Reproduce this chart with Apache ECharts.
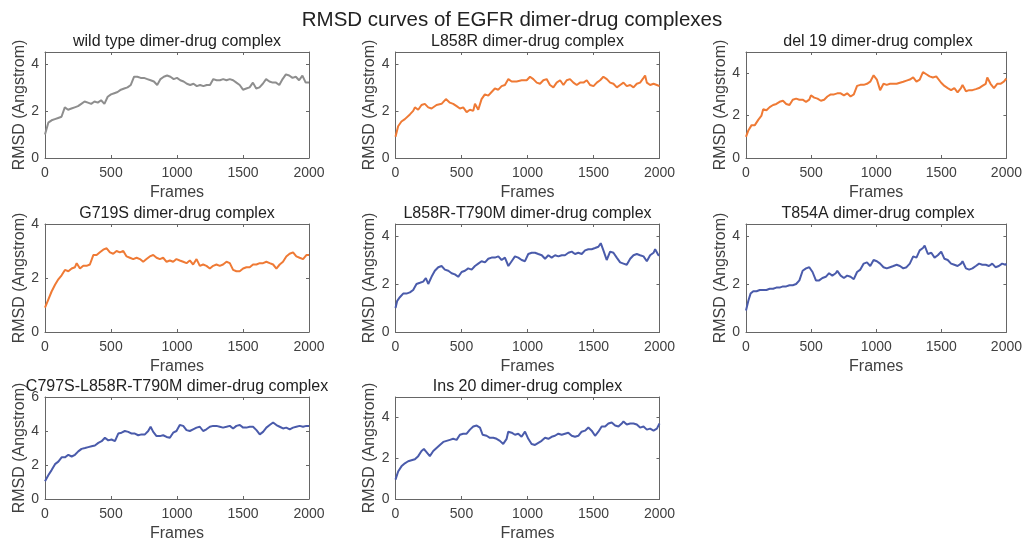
<!DOCTYPE html>
<html>
<head>
<meta charset="utf-8">
<script src="https://cdn.jsdelivr.net/npm/echarts@6/dist/echarts.min.js"></script>
<style>
html,body{margin:0;padding:0;background:#fff;}
#chart{width:1025px;height:543px;}
</style>
</head>
<body>
<div id="chart"></div>
<script>
const mainTitle = 'RMSD curves of EGFR dimer-drug complexes';
const panelTitles = ['wild type dimer-drug complex','L858R dimer-drug complex','del 19 dimer-drug complex',
  'G719S dimer-drug complex','L858R-T790M dimer-drug complex','T854A dimer-drug complex',
  'C797S-L858R-T790M dimer-drug complex','Ins 20 dimer-drug complex'];
const xTicks = [0, 500, 1000, 1500, 2000];
const yMaxes = [4.5, 4.5, 5, 4, 4.5, 4.5, 6, 5];
const colorsUsed = ['#8e8e8e','#ef7a35','#ef7a35','#ef7a35','#4a5bab','#4a5bab','#4a5bab','#4a5bab'];

// [frame, RMSD] pairs
const wildType = [[0,1.0],[25,1.5],[50,1.6],[75,1.65],[100,1.7],[125,1.75],[150,2.15],[175,2.05],[200,2.1],[225,2.15],[250,2.2],[275,2.3],[300,2.4],[325,2.35],[350,2.3],[375,2.4],[400,2.35],[425,2.45],[450,2.3],[475,2.6],[500,2.7],[525,2.75],[550,2.8],[575,2.9],[600,2.95],[625,3.0],[650,3.1],[675,3.45],[700,3.45],[725,3.4],[750,3.4],[775,3.35],[800,3.3],[825,3.25],[850,3.1],[875,3.35],[900,3.45],[925,3.5],[950,3.45],[975,3.35],[1000,3.4],[1025,3.3],[1050,3.25],[1075,3.15],[1100,3.1],[1125,3.15],[1150,3.05],[1175,3.1],[1200,3.05],[1225,3.1],[1250,3.1],[1275,3.35],[1300,3.3],[1325,3.3],[1350,3.35],[1375,3.3],[1400,3.35],[1425,3.3],[1450,3.2],[1475,3.1],[1500,2.9],[1525,2.95],[1550,3.0],[1575,3.2],[1600,2.95],[1625,3.0],[1650,3.15],[1675,3.35],[1700,3.25],[1725,3.2],[1750,3.2],[1775,3.1],[1800,3.35],[1825,3.55],[1850,3.5],[1875,3.4],[1900,3.45],[1925,3.3],[1950,3.5],[1975,3.2],[2000,3.2]];
const l858r = [[0,0.9],[20,1.35],[45,1.55],[71,1.65],[109,1.85],[134,2.0],[147,2.15],[172,2.05],[197,2.25],[222,2.3],[248,2.15],[273,2.1],[311,2.25],[349,2.3],[382,2.5],[412,2.35],[437,2.3],[463,2.2],[488,2.1],[513,2.15],[539,1.95],[564,2.05],[589,2.0],[602,2.3],[627,2.05],[652,2.5],[677,2.7],[703,2.65],[728,2.8],[753,2.95],[779,2.9],[804,3.05],[829,3.1],[855,3.35],[880,3.25],[918,3.25],[956,3.3],[994,3.3],[1019,3.45],[1044,3.35],[1070,3.2],[1095,3.15],[1120,3.3],[1145,3.35],[1170,3.1],[1196,3.0],[1221,3.2],[1247,3.3],[1272,3.1],[1297,3.3],[1322,3.35],[1348,3.2],[1373,3.1],[1398,3.2],[1424,3.2],[1449,3.3],[1474,3.1],[1500,3.05],[1525,3.2],[1550,3.3],[1575,3.45],[1601,3.35],[1626,3.2],[1651,3.15],[1677,3.0],[1702,3.1],[1727,3.2],[1752,3.05],[1778,3.1],[1803,3.0],[1828,3.15],[1853,3.2],[1879,3.4],[1891,3.5],[1904,3.2],[1929,3.1],[1955,3.15],[1980,3.1],[2000,3.05]];
const del19 = [[0,1.0],[18,1.3],[43,1.55],[68,1.55],[94,1.8],[119,2.0],[132,2.3],[157,2.25],[182,2.4],[208,2.5],[233,2.55],[258,2.65],[284,2.7],[309,2.55],[334,2.5],[359,2.75],[385,2.8],[410,2.75],[435,2.75],[461,2.65],[486,2.75],[499,2.95],[524,2.85],[549,2.8],[575,2.7],[600,2.75],[625,2.9],[651,3.0],[676,3.0],[701,3.05],[727,3.05],[752,2.95],[777,3.05],[803,2.9],[828,3.0],[853,3.4],[878,3.45],[904,3.45],[929,3.5],[954,3.6],[980,3.9],[1005,3.7],[1030,3.2],[1056,3.5],[1081,3.45],[1106,3.5],[1132,3.5],[1157,3.5],[1182,3.55],[1208,3.6],[1233,3.65],[1258,3.7],[1284,3.8],[1309,3.6],[1334,3.7],[1359,4.05],[1385,3.95],[1410,3.85],[1435,3.8],[1461,3.85],[1473,3.9],[1499,3.55],[1524,3.4],[1549,3.3],[1575,3.2],[1600,3.3],[1625,3.1],[1651,3.3],[1663,3.45],[1689,3.15],[1714,3.2],[1739,3.2],[1765,3.25],[1790,3.3],[1815,3.4],[1841,3.5],[1853,3.8],[1878,3.5],[1904,3.3],[1929,3.5],[1954,3.5],[1980,3.6],[2000,3.75]];
const g719s = [[0,0.9],[25,1.2],[50,1.5],[76,1.75],[101,1.95],[126,2.1],[151,2.3],[177,2.25],[202,2.35],[227,2.4],[240,2.55],[265,2.35],[290,2.45],[315,2.45],[340,2.5],[366,2.85],[391,2.85],[416,2.95],[441,3.05],[467,3.1],[492,2.95],[517,2.9],[542,3.0],[567,2.95],[593,3.0],[618,2.8],[643,2.75],[668,2.7],[694,2.75],[719,2.7],[744,2.6],[769,2.7],[794,2.8],[820,2.85],[845,2.75],[870,2.7],[895,2.75],[921,2.6],[946,2.65],[971,2.6],[996,2.7],[1021,2.65],[1047,2.6],[1072,2.55],[1097,2.65],[1122,2.5],[1148,2.7],[1173,2.45],[1198,2.5],[1223,2.45],[1249,2.35],[1274,2.45],[1299,2.5],[1324,2.45],[1349,2.5],[1375,2.6],[1400,2.55],[1425,2.3],[1450,2.25],[1475,2.25],[1501,2.35],[1526,2.4],[1551,2.4],[1576,2.5],[1602,2.5],[1627,2.55],[1652,2.55],[1677,2.6],[1702,2.55],[1728,2.5],[1753,2.35],[1778,2.5],[1803,2.6],[1828,2.8],[1853,2.9],[1879,2.95],[1904,2.8],[1929,2.75],[1955,2.7],[1980,2.85],[2000,2.85]];
const l858rT790m = [[0,1.0],[13,1.3],[33,1.45],[58,1.6],[83,1.6],[109,1.65],[134,1.75],[159,2.0],[185,2.05],[210,2.1],[230,2.25],[248,2.0],[273,2.3],[298,2.55],[324,2.7],[349,2.75],[374,2.6],[400,2.55],[425,2.45],[450,2.4],[475,2.3],[501,2.5],[526,2.55],[551,2.65],[577,2.6],[602,2.75],[627,2.85],[652,2.95],[678,2.9],[703,3.05],[728,3.1],[753,3.1],[779,3.15],[804,3.0],[829,3.1],[855,2.75],[880,2.95],[905,3.15],[930,3.1],[956,3.0],[981,2.95],[1006,3.25],[1032,3.3],[1057,3.3],[1082,3.25],[1108,3.2],[1133,3.05],[1158,3.2],[1183,3.1],[1209,3.2],[1234,3.15],[1259,3.2],[1284,3.2],[1310,3.3],[1335,3.35],[1360,3.25],[1385,3.3],[1411,3.25],[1436,3.4],[1461,3.45],[1486,3.45],[1512,3.5],[1537,3.55],[1555,3.7],[1575,3.4],[1600,3.0],[1626,3.35],[1651,3.3],[1676,3.1],[1702,2.9],[1727,2.85],[1752,2.8],[1778,3.05],[1803,3.2],[1828,3.25],[1853,3.2],[1879,3.15],[1904,2.95],[1929,3.2],[1955,3.3],[1967,3.45],[1992,3.2],[2000,3.2]];
const t854a = [[0,0.9],[18,1.3],[35,1.6],[56,1.7],[81,1.7],[106,1.75],[132,1.75],[157,1.75],[182,1.8],[208,1.8],[233,1.85],[258,1.85],[284,1.9],[309,1.9],[334,1.95],[359,1.95],[385,2.0],[410,2.15],[435,2.55],[461,2.65],[486,2.7],[511,2.5],[537,2.15],[562,2.15],[587,2.25],[613,2.3],[638,2.45],[663,2.35],[689,2.45],[701,2.55],[727,2.35],[752,2.25],[777,2.35],[803,2.3],[828,2.2],[853,2.5],[878,2.6],[904,2.85],[929,2.9],[954,2.75],[980,3.0],[1005,2.95],[1030,2.85],[1056,2.7],[1081,2.65],[1106,2.7],[1132,2.75],[1157,2.8],[1182,2.75],[1208,2.65],[1233,2.7],[1258,2.85],[1284,3.15],[1309,3.1],[1334,3.4],[1359,3.5],[1372,3.6],[1397,3.25],[1423,3.3],[1448,3.1],[1473,3.2],[1499,3.35],[1524,3.05],[1549,3.0],[1575,2.85],[1600,2.8],[1625,2.75],[1651,2.85],[1663,2.95],[1689,2.65],[1714,2.6],[1739,2.65],[1765,2.75],[1790,2.85],[1815,2.8],[1841,2.8],[1866,2.75],[1891,2.85],[1916,2.7],[1942,2.75],[1967,2.85],[1992,2.8],[2000,2.85]];
const c797s = [[0,1.05],[25,1.4],[50,1.7],[76,2.05],[101,2.2],[126,2.45],[151,2.45],[177,2.6],[202,2.5],[227,2.6],[252,2.8],[277,2.95],[303,3.0],[328,3.05],[353,3.1],[378,3.15],[404,3.3],[429,3.4],[454,3.6],[479,3.45],[504,3.5],[530,3.4],[555,3.85],[580,3.9],[605,4.0],[631,3.95],[656,3.85],[681,3.85],[706,3.75],[731,3.8],[757,3.8],[782,4.0],[800,4.25],[820,3.95],[845,3.7],[870,3.7],[895,3.75],[921,3.65],[946,3.6],[971,3.9],[996,4.0],[1021,4.35],[1047,4.3],[1072,4.05],[1097,4.0],[1122,4.1],[1148,4.2],[1173,4.25],[1198,4.0],[1223,4.1],[1249,4.25],[1274,4.3],[1299,4.3],[1324,4.25],[1349,4.2],[1375,4.25],[1400,4.3],[1425,4.15],[1450,4.3],[1476,4.35],[1501,4.2],[1526,4.2],[1551,4.25],[1576,4.25],[1602,4.05],[1627,3.8],[1652,3.95],[1677,4.2],[1702,4.35],[1728,4.5],[1753,4.35],[1778,4.25],[1803,4.15],[1828,4.2],[1854,4.1],[1879,4.2],[1904,4.25],[1929,4.3],[1955,4.25],[1980,4.3],[2000,4.3]];
const ins20 = [[0,0.95],[20,1.35],[45,1.6],[71,1.75],[96,1.85],[121,1.9],[147,1.95],[172,2.1],[197,2.35],[215,2.45],[235,2.3],[260,2.1],[286,2.35],[311,2.5],[336,2.65],[362,2.8],[387,2.85],[412,2.9],[437,2.95],[463,2.9],[488,3.15],[513,3.2],[539,3.2],[564,3.4],[589,3.55],[615,3.6],[640,3.5],[660,3.15],[690,3.1],[715,3.0],[741,3.0],[766,2.95],[791,2.85],[816,2.7],[842,2.95],[854,3.3],[880,3.25],[905,3.15],[930,3.2],[955,3.05],[981,3.3],[1006,2.95],[1031,2.7],[1057,2.65],[1082,2.75],[1107,2.85],[1133,3.0],[1158,2.95],[1183,3.05],[1208,3.1],[1234,3.2],[1259,3.15],[1284,3.2],[1309,3.25],[1335,3.1],[1360,3.05],[1385,3.1],[1410,3.3],[1436,3.35],[1461,3.5],[1486,3.35],[1512,3.1],[1537,3.3],[1562,3.55],[1588,3.55],[1613,3.7],[1638,3.75],[1664,3.6],[1689,3.55],[1714,3.7],[1727,3.8],[1752,3.65],[1778,3.7],[1803,3.7],[1828,3.65],[1853,3.5],[1879,3.55],[1904,3.4],[1929,3.45],[1955,3.35],[1980,3.45],[2000,3.7]];

const allSeries = [wildType, l858r, del19, g719s, l858rT790m, t854a, c797s, ins20];

const colLeft = [45, 395.5, 746];
const plotW = 264;
const rowTop = [52, 224, 397];
const rowH = [106, 108, 106];

const axisColor = '#666';
const textColor = '#404040';
const font = 'Liberation Sans, Arial, Helvetica, sans-serif';

const grids = [], xAxes = [], yAxes = [], series = [], titles = [];
titles.push({text: mainTitle, left: 512, top: 10, textAlign: 'center', padding: 0,
  textStyle: {fontSize: 20.5, fontWeight: 'normal', color: '#222', fontFamily: font}});

allSeries.forEach((data, i) => {
  const r = Math.floor(i / 3), c = i % 3;
  grids.push({left: colLeft[c], top: rowTop[r], width: plotW, height: rowH[r], show: false, containLabel: false});
  titles.push({text: panelTitles[i], left: colLeft[c] + plotW / 2, top: rowTop[r] - 18, textAlign: 'center', padding: 0,
    textStyle: {fontSize: 16, fontWeight: 'normal', color: '#222', fontFamily: font, lineHeight: 16}});
  const xi = xAxes.length, yi = yAxes.length;
  const baseX = {type: 'value', gridIndex: i, min: 0, max: 2000, interval: 500,
    axisLine: {show: true, onZero: false, lineStyle: {color: axisColor, width: 1}},
    axisTick: {show: true, inside: true, length: 3, lineStyle: {color: axisColor}},
    splitLine: {show: false}};
  xAxes.push(Object.assign({}, baseX, {position: 'bottom', name: 'Frames', nameLocation: 'middle', nameGap: 27,
    nameTextStyle: {fontSize: 16, color: textColor, fontFamily: font},
    axisLabel: {show: true, margin: 8, fontSize: 14, color: textColor, fontFamily: font,
      formatter: v => (xTicks.indexOf(v) >= 0 ? String(v) : '')}}));
  xAxes.push(Object.assign({}, baseX, {position: 'top', axisLabel: {show: false}}));
  const baseY = {type: 'value', gridIndex: i, min: 0, max: yMaxes[i], interval: 2,
    axisLine: {show: true, onZero: false, lineStyle: {color: axisColor, width: 1}},
    axisTick: {show: true, inside: true, length: 3, lineStyle: {color: axisColor}},
    splitLine: {show: false}};
  yAxes.push(Object.assign({}, baseY, {position: 'left', name: 'RMSD (Angstrom)', nameLocation: 'middle', nameGap: 16,
    nameTextStyle: {fontSize: 16, color: textColor, fontFamily: font},
    axisLabel: {show: true, margin: 6, fontSize: 14, color: textColor, fontFamily: font,
      formatter: v => (Math.abs(v % 2) < 1e-9 ? String(v) : '')}}));
  yAxes.push(Object.assign({}, baseY, {position: 'right', axisLabel: {show: false}}));
  series.push({type: 'line', xAxisIndex: xi, yAxisIndex: yi, data: data, showSymbol: false,
    lineStyle: {color: colorsUsed[i], width: 2}, itemStyle: {color: colorsUsed[i]}, silent: true});
});

const chart = echarts.init(document.getElementById('chart'), null, {renderer: 'canvas'});
chart.setOption({
  animation: false,
  backgroundColor: '#fff',
  title: titles,
  grid: grids,
  xAxis: xAxes,
  yAxis: yAxes,
  series: series
});
</script>
</body>
</html>
